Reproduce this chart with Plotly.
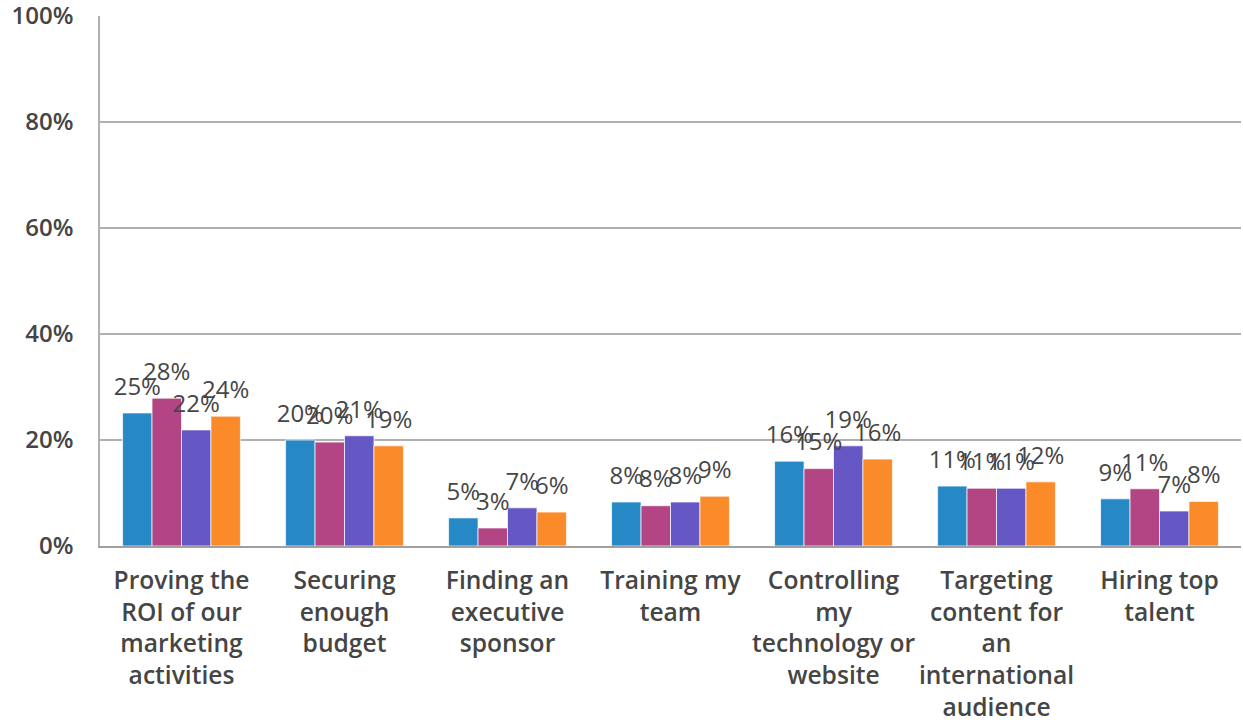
import plotly.graph_objects as go

categories = [
    "Proving the<br>ROI of our<br>marketing<br>activities",
    "Securing<br>enough<br>budget",
    "Finding an<br>executive<br>sponsor",
    "Training my<br>team",
    "Controlling<br>my<br>technology or<br>website",
    "Targeting<br>content for<br>an<br>international<br>audience",
    "Hiring top<br>talent",
]
series_names = ["Series 1", "Series 2", "Series 3", "Series 4"]
series_1 = [25.1, 20.0, 5.3, 8.3, 16.0, 11.3, 8.9]
series_2 = [27.9, 19.6, 3.4, 7.6, 14.6, 10.9, 10.8]
series_3 = [21.9, 20.8, 7.2, 8.3, 18.9, 10.9, 6.6]
series_4 = [24.5, 18.9, 6.4, 9.4, 16.4, 12.1, 8.4]
colors = ["#2788c6", "#b44584", "#6558c4", "#fb8a29"]

tick_vals = [0, 20, 40, 60, 80, 100]
tick_text = ["0%", "20%", "40%", "60%", "80%", "100%"]

FONT = "Open Sans"
TXT = "#454545"
GAP = 0.277

all_series = [series_1, series_2, series_3, series_4]

fig = go.Figure()
for i, (name, vals, c) in enumerate(zip(series_names, all_series, colors)):
    fig.add_trace(go.Bar(
        x=categories, y=vals, name=name,
        offsetgroup=str(i),
        marker=dict(color=c, line=dict(color="rgba(255,255,255,0.7)", width=1)),
        hoverinfo="x+y",
    ))
for i, (name, vals, c) in enumerate(zip(series_names, all_series, colors)):
    fig.add_trace(go.Scatter(
        x=categories, y=vals, name=name + " labels",
        offsetgroup=str(i), orientation="v",
        mode="markers+text",
        marker=dict(size=18, opacity=0, color=c),
        text=[f"{round(v)}%" for v in vals],
        textposition="top center",
        textfont=dict(family=FONT, size=24, color=TXT),
        cliponaxis=False,
        hoverinfo="skip",
        showlegend=False,
    ))

fig.update_layout(
    width=1243, height=724,
    margin=dict(l=100, r=2, t=16, b=178, autoexpand=False),
    barmode="group",
    bargap=GAP,
    bargroupgap=0,
    scattermode="group",
    scattergap=GAP,
    showlegend=False,
    plot_bgcolor="white",
    paper_bgcolor="white",
    font=dict(family=FONT, color=TXT),
)
fig.update_yaxes(
    range=[0, 100],
    tickvals=tick_vals, ticktext=tick_text,
    tickfont=dict(family=FONT, size=24, color=TXT, weight=600),
    showgrid=True, gridcolor="#b0b0b0", gridwidth=1.5,
    showline=True, linecolor="#b0b0b0", linewidth=1.5,
    zeroline=False, automargin=False,
    ticks="", ticklabelstandoff=20, ticklabeloverflow="allow",
)
fig.update_xaxes(
    tickfont=dict(family=FONT, size=24.6, color=TXT, weight=600),
    showline=True, linecolor="#a0a0a0", linewidth=2,
    ticks="", ticklabelstandoff=11, automargin=False,
    tickangle=0, ticklabeloverflow="allow",
)

fig.write_html(
    "out.html",
    config={"displayModeBar": False},
    post_script="document.body.style.margin='0';document.body.style.overflow='hidden';",
)
